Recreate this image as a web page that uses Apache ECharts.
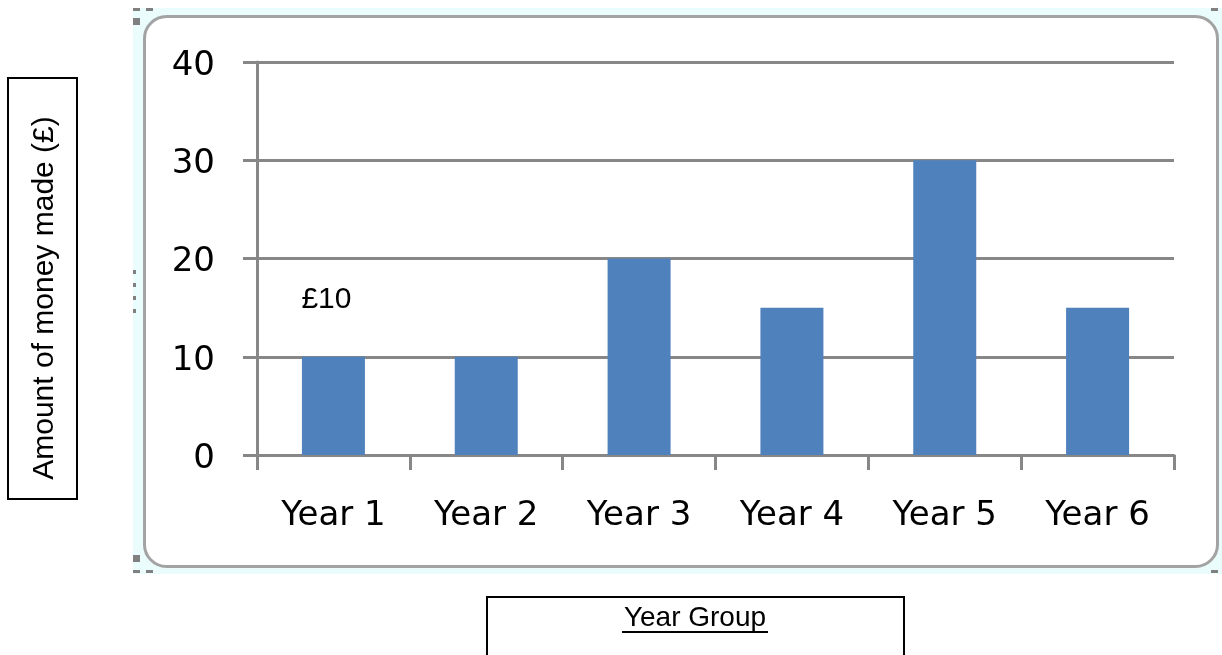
<!DOCTYPE html>
<html>
<head>
<meta charset="utf-8">
<script src="https://cdn.jsdelivr.net/npm/echarts@6/dist/echarts.min.js"></script>
<style>
html,body{margin:0;padding:0;background:#fff;}
#chart{width:1222px;height:655px;}
</style>
</head>
<body>
<div id="chart"></div>
<script>
const categories = ['Year 1', 'Year 2', 'Year 3', 'Year 4', 'Year 5', 'Year 6'];
const moneyMade = [10, 10, 20, 15, 30, 15];
const yTicks = { min: 0, max: 40, interval: 10 };
const yTitle = 'Amount of money made (£)';
const xTitle = 'Year Group';
const annotatedIndex = 0;

const chart = echarts.init(document.getElementById('chart'), null, { renderer: 'canvas' });

const seriesData = moneyMade.map((v, i) => {
  if (i === annotatedIndex) {
    return {
      value: v,
      label: {
        show: true, position: 'top', distance: 42, offset: [-7, 0],
        formatter: '£{c}', color: '#000',
        fontFamily: 'Liberation Sans', fontSize: 30
      }
    };
  }
  return v;
});

const handle = (x, y, w, h) => ({ type: 'rect', z: -5, shape: { x, y, width: w, height: h }, style: { fill: '#808080' } });

const option = {
  animation: false,
  backgroundColor: '#fff',
  grid: { left: 257, right: 48, top: 62, bottom: 200, containLabel: false },
  xAxis: {
    type: 'category',
    data: categories,
    axisLine: { show: true, lineStyle: { color: '#878787', width: 3 } },
    axisTick: { show: true, length: 15, inside: false, alignWithLabel: false, lineStyle: { color: '#878787', width: 3 } },
    axisLabel: { margin: 44, color: '#000', fontFamily: 'DejaVu Sans', fontSize: 34 },
    splitLine: { show: false }
  },
  yAxis: {
    type: 'value',
    min: yTicks.min, max: yTicks.max, interval: yTicks.interval,
    axisLine: { show: true, lineStyle: { color: '#878787', width: 3 } },
    axisTick: { show: true, length: 14, lineStyle: { color: '#878787', width: 3 } },
    axisLabel: { margin: 42, color: '#000', fontFamily: 'DejaVu Sans', fontSize: 34, verticalAlign: 'top', lineHeight: 8 },
    splitLine: { show: true, lineStyle: { color: '#878787', width: 3 } }
  },
  series: [{
    type: 'bar',
    data: seriesData,
    barWidth: 63,
    itemStyle: { color: '#4f81bd' }
  }],
  graphic: [
    { type: 'rect', z: -10, shape: { x: 133, y: 8, width: 1089, height: 566 }, style: { fill: '#eafcfc' } },
    { type: 'rect', z: -9, shape: { x: 144.5, y: 16.5, width: 1073, height: 550, r: 22 }, style: { fill: '#fff', stroke: '#a3a3a3', lineWidth: 3 } },
    handle(133, 8, 7, 3), handle(146, 8, 7, 3), handle(133, 18, 7, 7),
    handle(1211, 8, 7, 3),
    handle(133, 270, 3, 4), handle(133, 283, 3, 4), handle(133, 296, 3, 4), handle(133, 309, 3, 4),
    handle(133, 555, 7, 7), handle(133, 570, 7, 3), handle(146, 570, 7, 3), handle(1211, 570, 7, 3),
    { type: 'rect', shape: { x: 8, y: 78, width: 69, height: 421 }, style: { fill: 'none', stroke: '#000', lineWidth: 2 } },
    { type: 'text', x: 45, y: 298, rotation: Math.PI / 2,
      style: { text: yTitle, fill: '#000', fontFamily: 'Liberation Sans', fontSize: 30, fontStyle: 'normal', align: 'center', verticalAlign: 'middle' } },
    { type: 'rect', shape: { x: 487, y: 597, width: 417, height: 80 }, style: { fill: 'none', stroke: '#000', lineWidth: 2 } },
    { type: 'text', x: 695, y: 618,
      style: { text: xTitle, fill: '#000', fontFamily: 'Liberation Sans', fontSize: 28, fontStyle: 'normal', align: 'center', verticalAlign: 'middle' } },
    { type: 'line', shape: { x1: 622, y1: 632, x2: 768, y2: 632 }, style: { stroke: '#000', lineWidth: 2 } }
  ]
};

chart.setOption(option);
</script>
</body>
</html>
